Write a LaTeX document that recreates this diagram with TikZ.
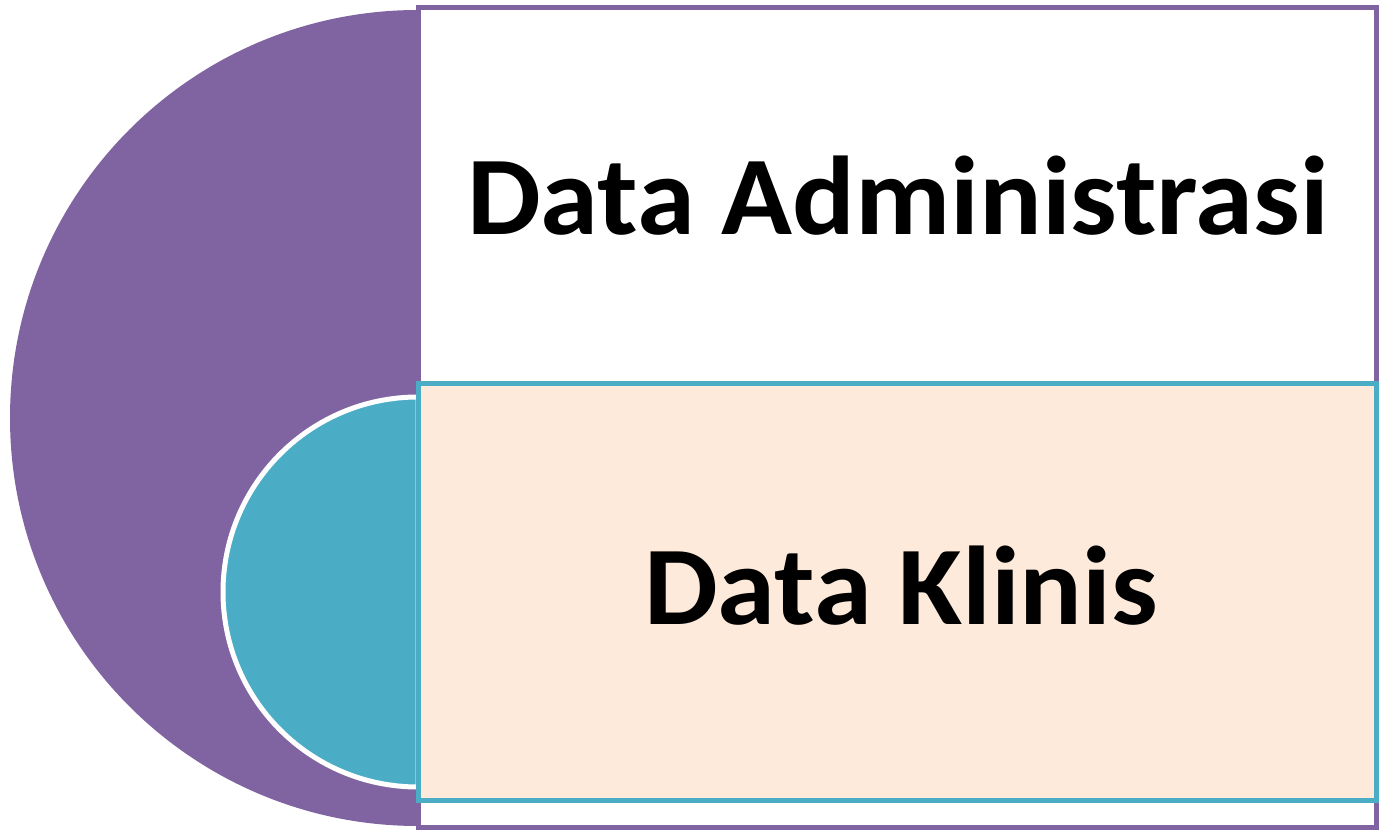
\documentclass[tikz,border=0pt]{standalone}
\usepackage{fontspec}
\setmainfont{Carlito}
\newfontfamily\panelfont{Carlito}[FakeStretch=1.045]
\usepackage{tikz}
\definecolor{hubpurple}{HTML}{8064A2}
\definecolor{hubteal}{HTML}{4BACC6}
\definecolor{peach}{HTML}{FDEADA}
\tikzset{
    half disc/.style args={#1:#2}{
        insert path={+ (0,#2) arc[start angle=90, end angle=270, radius=#2] -- cycle}
    },
    panel text/.style={anchor=base, font=\panelfont\fontsize{112}{134}\selectfont\bfseries, text=black}
}

\begin{document}
\begin{tikzpicture}[x=1pt, y=1pt]
    \useasboundingbox (0,0) rectangle (1380,830);
    % outer level
    \fill[hubpurple] (418,412) [half disc=0:408];
    \filldraw[draw=hubpurple, fill=white, line width=5pt] (418.5,822.5) rectangle (1376,2.5);
    % inner level
    \filldraw[fill=hubteal, draw=white, line width=5pt] (418,238) [half disc=0:195];
    \filldraw[draw=hubteal, fill=peach, line width=5pt] (418.5,446) rectangle (1376,29.5);
    \node[panel text] (admin) at (898,595) {Data Administrasi};
    \node[panel text] (klinis) at (901,205) {Data Klinis};
\end{tikzpicture}
\end{document}
